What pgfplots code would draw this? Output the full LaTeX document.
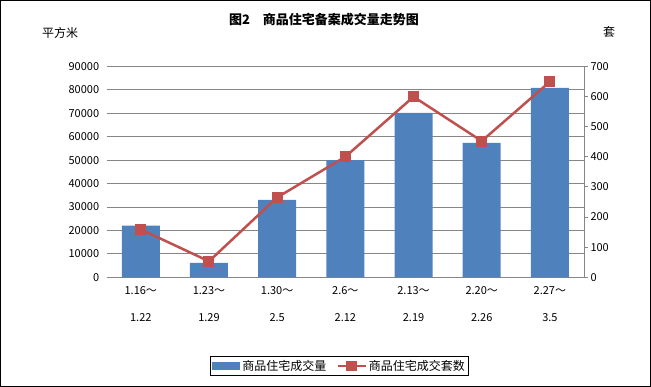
\documentclass[border=0pt]{standalone}
\usepackage{pgfplots}
\pgfplotsset{compat=1.18}
\usepackage{fontspec}
\setmainfont{Noto Sans CJK SC}
\definecolor{barblue}{RGB}{79,129,189}
\definecolor{linered}{RGB}{192,80,77}
\definecolor{gridgray}{RGB}{134,134,134}
\begin{document}
\begin{tikzpicture}
\draw[line width=1pt] (0.5pt,-0.5pt) rectangle (650.5pt,-386.5pt);
\node[font=\fontsize{13}{15}\selectfont\bfseries] at (324pt,-20pt) {图2\hspace{1em}商品住宅备案成交量走势图};
\node[font=\fontsize{12}{14}\selectfont] at (60pt,-33pt) {平方米};
\node[font=\fontsize{12}{14}\selectfont] at (609pt,-32pt) {套};
\begin{axis}[at={(106.7pt,-277.3pt)}, anchor=south west, scale only axis,
  width=477.3pt, height=211pt,
  xmin=-0.5, xmax=6.5, ymin=0, ymax=90000,
  ytick={0,10000,...,90000},
  ymajorgrids, grid style={gridgray, line width=0.8pt},
  axis x line*=bottom, axis y line*=left,
  y axis line style={draw=none},
  x axis line style={gridgray, line width=0.8pt, -},
  major tick length=0pt,
  xtick={0,...,6},
  xticklabels={{1.16～\\[14pt]1.22},{1.23～\\[14pt]1.29},{1.30～\\[14pt]2.5},{2.6～\\[14pt]2.12},{2.13～\\[14pt]2.19},{2.20～\\[14pt]2.26},{2.27～\\[14pt]3.5}},
  xticklabel style={align=center, yshift=-6pt},
  scaled y ticks=false,
  /pgf/number format/1000 sep={},
  /pgf/number format/assume math mode=true,
  yticklabel style={xshift=-4pt},
  tick label style={font=\fontsize{11}{12.5}\selectfont},
  ]
\addplot[ybar, bar width=38pt, fill=barblue, draw=none] coordinates {
(0,22000) (1,6100) (2,33000) (3,50000) (4,70100) (5,57300) (6,80800)};
\end{axis}
\begin{axis}[at={(106.7pt,-277.3pt)}, anchor=south west, scale only axis,
  width=477.3pt, height=211pt,
  xmin=-0.5, xmax=6.5, ymin=0, ymax=700,
  ytick={0,100,...,700},
  axis y line*=right, axis x line=none,
  y axis line style={gridgray, line width=0.8pt, -},
  tick style={gridgray, line width=0.8pt},
  major tick length=4pt, tick align=outside,
  /pgf/number format/assume math mode=true,
  tick label style={font=\fontsize{11}{12.5}\selectfont},
  yticklabel style={xshift=-1pt},
  clip=false,
  legend columns=2,
  legend style={at={(0.488,-0.42)}, anchor=center, draw=black, line width=0.8pt,
    font=\fontsize{12}{14}\selectfont, inner sep=2pt,
    /tikz/every even column/.append style={column sep=8pt}},
  ]
\addlegendimage{legend image code/.code={\fill[barblue] (0pt,-3.5pt) rectangle (27pt,3.5pt);}}
\addlegendentry{商品住宅成交量}
\addplot[linered, line width=2.5pt, mark=square*, mark size=5pt,
  mark options={fill=linered, draw=linered, line width=0pt},
  legend image code/.code={\draw[linered,line width=2.5pt] (0pt,0pt)--(28pt,0pt); \fill[linered] (10pt,-4pt) rectangle (18pt,4pt);}]
  coordinates {(0,159) (1,53) (2,265) (3,400) (4,599) (5,452) (6,649)};
\addlegendentry{商品住宅成交套数}
\end{axis}
\end{tikzpicture}
\end{document}
